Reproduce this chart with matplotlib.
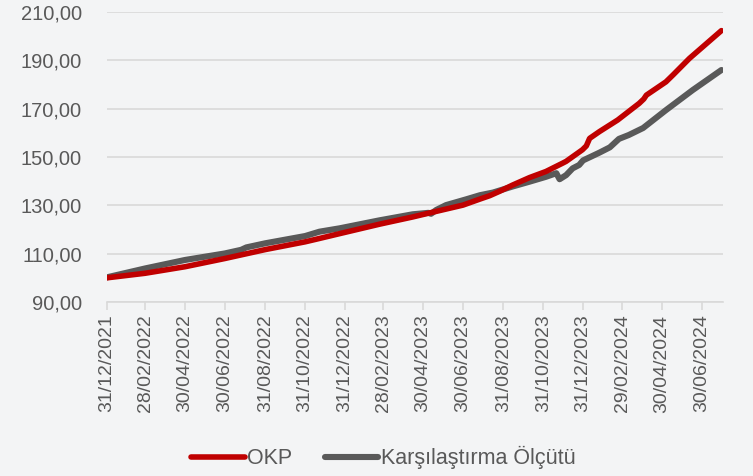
import pandas as pd
import matplotlib
matplotlib.use("Agg")
import matplotlib.pyplot as plt
import matplotlib.dates as mdates
from matplotlib.ticker import FuncFormatter

plt.rcParams['font.family'] = ['Liberation Sans', 'DejaVu Sans']

# ======================================================
# Data
# ======================================================
okp_dates = ["2021-12-31", "2022-02-28", "2022-04-30", "2022-06-30", "2022-08-31",
             "2022-10-31", "2022-11-22", "2022-12-23", "2023-02-22", "2023-04-14",
             "2023-05-12", "2023-06-30", "2023-07-26", "2023-08-10", "2023-08-25",
             "2023-09-14", "2023-10-10", "2023-11-04", "2023-11-30", "2023-12-05",
             "2023-12-30", "2024-01-05", "2024-01-10", "2024-01-25", "2024-02-22",
             "2024-03-26", "2024-04-02", "2024-04-06", "2024-05-06", "2024-05-17",
             "2024-06-11", "2024-07-30"]
okp_values = [100.0, 101.9, 104.6, 108.0, 111.7,
              114.9, 116.3, 118.3, 122.2, 125.2,
              127.0, 130.1, 132.6, 134.0, 135.8,
              138.4, 141.5, 144.0, 147.5, 148.2,
              153.0, 154.6, 157.7, 160.5, 165.3,
              172.2, 174.0, 175.6, 181.1, 184.0,
              190.8, 202.3]

bench_dates = ["2021-12-31", "2022-02-28", "2022-04-30", "2022-06-30", "2022-07-25",
               "2022-08-02", "2022-08-31", "2022-10-31", "2022-11-22", "2022-12-23",
               "2023-02-22", "2023-04-14", "2023-05-08", "2023-05-12", "2023-05-20",
               "2023-06-04", "2023-07-05", "2023-07-26", "2023-08-15", "2023-09-14",
               "2023-10-10", "2023-11-04", "2023-11-20", "2023-11-25", "2023-12-05",
               "2023-12-15", "2023-12-25", "2023-12-31", "2024-01-25", "2024-02-10",
               "2024-02-24", "2024-03-10", "2024-04-01", "2024-05-06", "2024-06-16",
               "2024-07-30"]
bench_values = [100.2, 103.9, 107.4, 110.1, 111.6,
                112.6, 114.3, 117.3, 119.1, 120.5,
                123.8, 126.3, 126.9, 126.5, 128.1,
                130.1, 132.5, 134.2, 135.3, 137.8,
                139.8, 141.8, 143.3, 140.8, 142.5,
                145.3, 146.7, 148.6, 151.8, 154.0,
                157.5, 159.1, 162.0, 169.4, 177.7,
                186.0]

tick_dates = ["2021-12-31", "2022-02-28", "2022-04-30", "2022-06-30", "2022-08-31",
              "2022-10-31", "2022-12-31", "2023-02-28", "2023-04-30", "2023-06-30",
              "2023-08-31", "2023-10-31", "2023-12-31", "2024-02-29", "2024-04-30",
              "2024-06-30"]
y_ticks = [90, 110, 130, 150, 170, 190, 210]

# ======================================================
# Plot
# ======================================================
bg = "#f3f4f5"
fig = plt.figure(figsize=(7.53, 4.76), dpi=100, facecolor=bg)
ax = fig.add_axes([0.1417, 0.3655, 0.8181, 0.6093], facecolor=bg)

ax.plot(pd.to_datetime(okp_dates), okp_values, color="#c00000", lw=4.0,
        solid_capstyle="round", solid_joinstyle="round", label="OKP", zorder=3)
ax.plot(pd.to_datetime(bench_dates), bench_values, color="#595959", lw=4.4,
        solid_capstyle="round", solid_joinstyle="round",
        label="Karşılaştırma Ölçütü", zorder=2)

ax.set_xlim(pd.Timestamp("2021-12-31"), pd.Timestamp("2024-08-01"))
ax.set_ylim(90, 210)
ax.set_yticks(y_ticks)
ax.yaxis.set_major_formatter(FuncFormatter(lambda v, p: f"{v:.2f}".replace(".", ",")))
ax.grid(axis="y", color="#d9d9d9", lw=1.2)
ax.set_axisbelow(True)

ax.set_xticks(pd.to_datetime(tick_dates))
ax.xaxis.set_major_formatter(mdates.DateFormatter("%d/%m/%Y"))
plt.setp(ax.get_xticklabels(), rotation=90)

for s in ["top", "right", "left"]:
    ax.spines[s].set_visible(False)
ax.spines["bottom"].set_color("#d9d9d9")
ax.spines["bottom"].set_linewidth(1.2)

ax.tick_params(axis="y", length=0, pad=18, labelsize=14.5, labelcolor="#595959")
ax.tick_params(axis="x", length=6, width=1.2, color="#d9d9d9", pad=3,
               labelsize=14, labelcolor="#595959")

fig.legend(loc="center", bbox_to_anchor=(0.509, 0.038), ncol=2, frameon=False,
           fontsize=15.5, handlelength=2.5, handletextpad=0.1, columnspacing=1.5,
           labelcolor="#595959")

plt.savefig("out.png", dpi=100, facecolor=bg)
plt.close()
